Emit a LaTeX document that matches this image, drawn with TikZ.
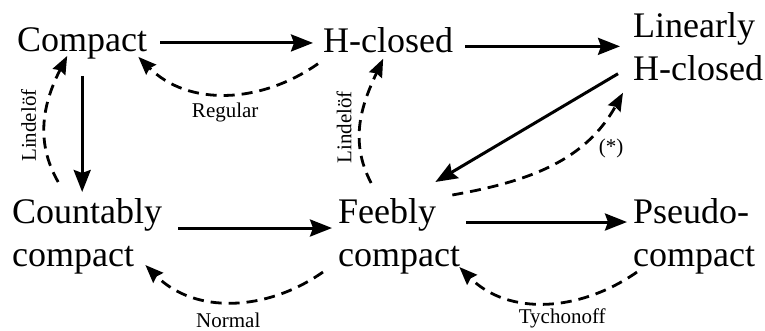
\documentclass[tikz,border=0pt]{standalone}
\usepackage{fontspec}
\setmainfont{Liberation Serif}
\usetikzlibrary{arrows.meta}

\begin{document}
\begin{tikzpicture}[x=1pt, y=1pt, inner sep=6pt,
  prop/.style={anchor=north west, align=left, font=\fontsize{36}{43}\selectfont},
  imp/.style={line width=3pt, -{Stealth[length=22pt,width=17pt,inset=3pt]}},
  conv/.style={line width=2.8pt, dash pattern=on 11pt off 7pt, -{Stealth[length=18pt,width=14pt,inset=2pt]}},
  cond/.style={font=\fontsize{21}{25}\selectfont, inner sep=7pt}]
\useasboundingbox (0,0) rectangle (765,331);

\foreach \x/\y/\i/\txt in {11/310/cpt/Compact, 317/310/hcl/H-closed, 627/325/lhc/{Linearly\\H-closed},
  6/139/ccp/{Countably\\compact}, 332/139/fcp/{Feebly\\compact}, 627/139/pcp/{Pseudo-\\compact}}
{
\draw (\x,\y) node[prop](\i) {\txt};
}

\draw[imp, shorten <=7pt, shorten >=4pt] (cpt.east) -- (cpt.east -| hcl.west);
\draw[imp, shorten <=6pt, shorten >=7pt] (lhc.west -| hcl.east) -- (lhc.west);
\draw[imp, shorten <=11pt] (cpt.south) -- (cpt.south |- ccp.north);
\draw[imp, shorten <=10pt] ([yshift=8pt]ccp.east) -- ([yshift=8pt]ccp.east -| fcp.west);
\draw[imp] ([yshift=14pt]fcp.east) -- ([yshift=14pt]fcp.east -| pcp.west);
\draw[imp] ([shift={(-9pt,13pt)}]lhc.south west) -- ([shift={(-31pt,10pt)}]fcp.north east);

\draw[conv] ([shift={(1pt,-5pt)}]hcl.south west) to[out=-145, in=-45] node[cond, below]{Regular} ([shift={(-15pt,8pt)}]cpt.south east);
\draw[conv] ([shift={(-29pt,10pt)}]ccp.north) to[out=120, in=-117] node[cond, pos=0.45, rotate=90, anchor=south]{Lindelöf} ([shift={(-15pt,9pt)}]cpt.south);
\draw[conv] ([shift={(-28pt,9pt)}]fcp.north) to[out=118, in=-115] node[cond, pos=0.45, rotate=90, anchor=south]{Lindelöf} ([xshift=-5pt]hcl.south);
\draw[conv] ([shift={(-14pt,-3pt)}]fcp.north east) to[out=10, in=-119] node[cond, pos=0.65, right, xshift=14pt]{(*)} ([shift={(-4pt,-6pt)}]lhc.south west);
\draw[conv] ([shift={(-9pt,8pt)}]fcp.south west) to[out=-145, in=-45] node[cond, below, xshift=-3pt, yshift=-3pt]{Normal} ([shift={(-23pt,15pt)}]ccp.south east);
\draw[conv] ([shift={(10pt,8pt)}]pcp.south west) to[out=-145, in=-45] node[cond, below, xshift=17pt, yshift=1pt, inner sep=5pt]{Tychonoff} ([shift={(-7pt,13pt)}]fcp.south east);
\end{tikzpicture}
\end{document}
